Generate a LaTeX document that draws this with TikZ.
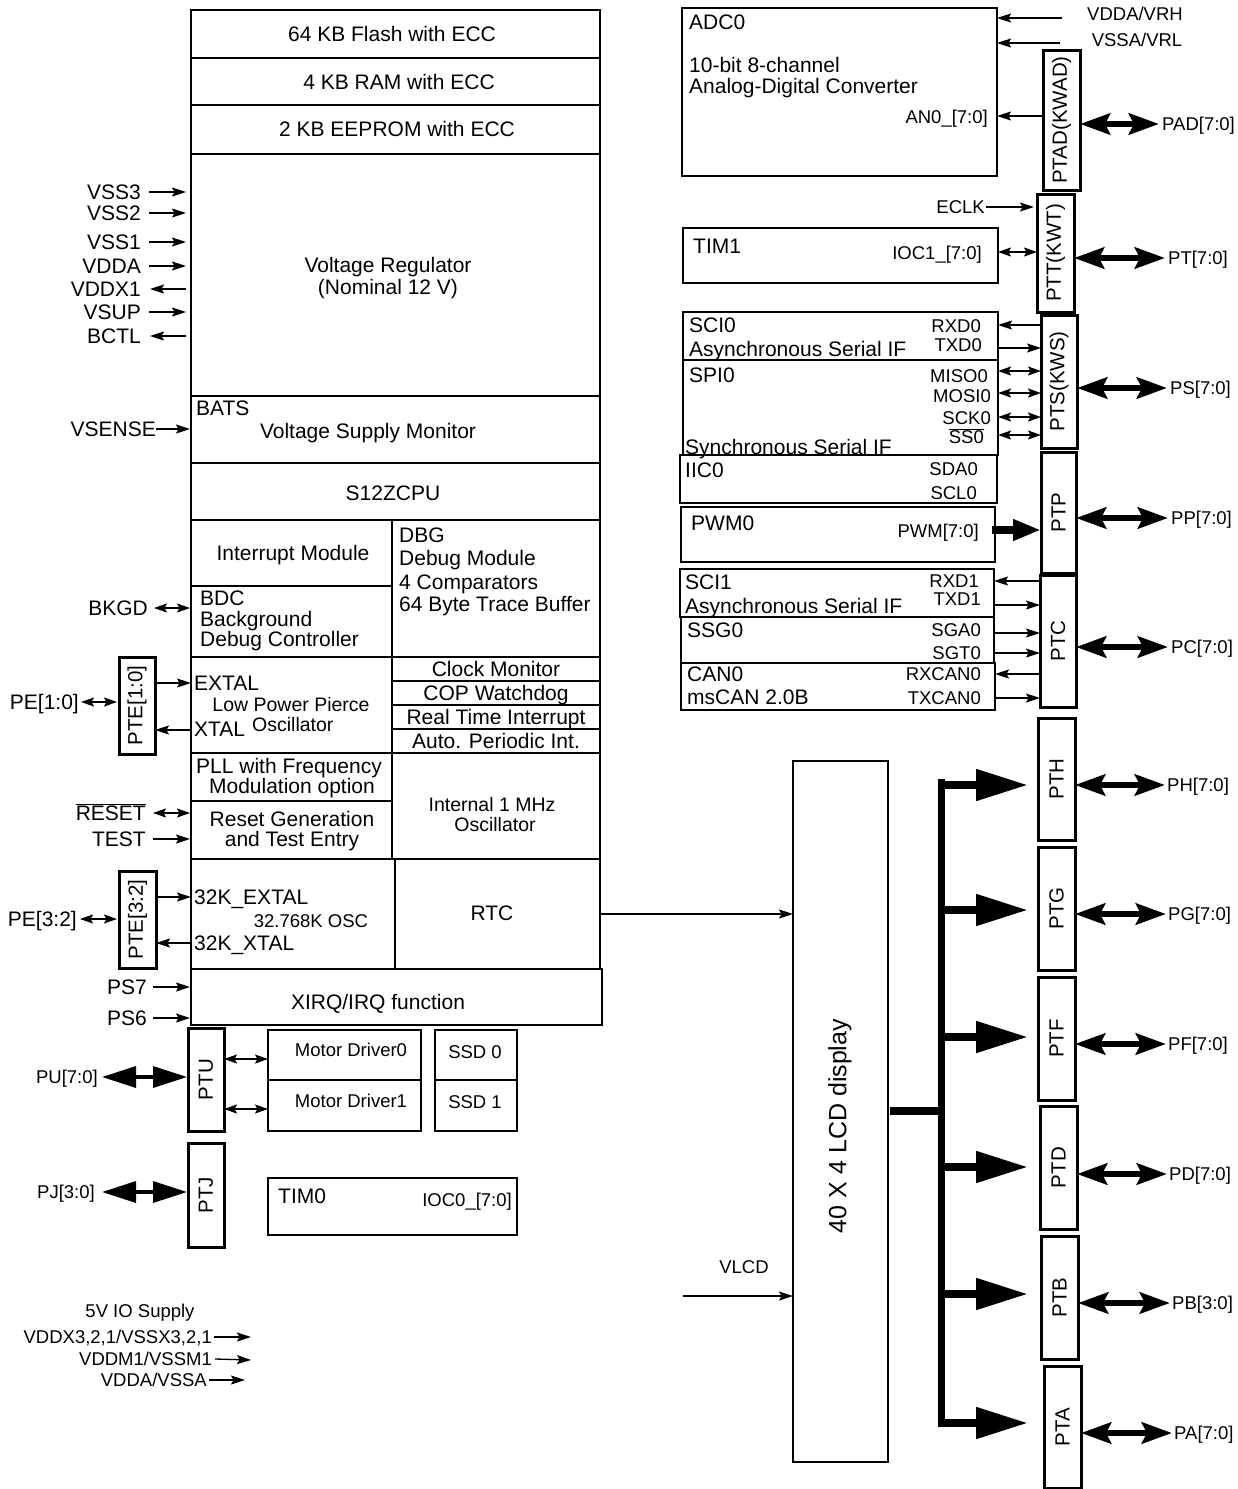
\documentclass[tikz,border=0pt]{standalone}
\usepackage{fontspec}
\setmainfont{Liberation Sans}
\usetikzlibrary{arrows.meta}
\newcommand\mkbox[6][]{\node[box,#1,anchor=north west,minimum width={(#4-#2)*1pt},minimum height={(#5-#3)*1pt}] (#6) at (#2,#3) {};}
\begin{document}
\begin{tikzpicture}[x=1pt,y=-1pt,
  box/.style={draw,line width=2.7pt,inner sep=0pt,outer sep=0pt},
  pb/.style={line width=3pt},
  T/.style={inner sep=0pt,font=\fontsize{21}{24}\selectfont,text height=15pt,text depth=0pt},
  M/.style={inner sep=0pt,font=\fontsize{19.5}{22}\selectfont,text height=14pt,text depth=0pt},
  S/.style={inner sep=0pt,font=\fontsize{18.5}{21}\selectfont,text height=13.3pt,text depth=0pt},
  P/.style={inner sep=0pt,font=\fontsize{20.5}{23}\selectfont,rotate=90},
  arr/.style={line width=1.3pt,-{Stealth[length=14pt,width=9pt,inset=2.5pt]}},
  darr/.style={line width=1.6pt,{Stealth[length=13pt,width=9pt,inset=2.5pt]}-{Stealth[length=13pt,width=9pt,inset=2.5pt]}},
  bigarr/.style={line width=6.5pt,{Stealth[length=30pt,width=21pt,inset=5pt]}-{Stealth[length=30pt,width=21pt,inset=5pt]}},
  puarr/.style={line width=3.5pt,{Triangle[length=34pt,width=21pt]}-{Triangle[length=34pt,width=21pt]}},
  brarr/.style={line width=8pt,-{Triangle[length=52pt,width=30pt]}},
  pwmarr/.style={line width=8pt,-{Triangle[length=28pt,width=20pt]}},
  bus/.style={line width=7pt},
]
\useasboundingbox (0,0) rectangle (1238,1489);
% ---------------- main stack
\mkbox{191}{10}{600}{58}{flash}
\mkbox{191}{58}{600}{105}{ram}
\mkbox{191}{105}{600}{154}{eeprom}
\mkbox{191}{154}{600}{396}{vreg}
\mkbox{191}{396}{600}{463}{vsm}
\mkbox{191}{463}{600}{520}{cpu}
\mkbox{191}{520}{392}{586}{intm}
\mkbox{191}{586}{392}{657}{bdc}
\mkbox{392}{520}{600}{657}{dbg}
\mkbox{191}{657}{392}{753}{lpo}
\mkbox{392}{657}{600}{681}{clkm}
\mkbox{392}{681}{600}{705}{cop}
\mkbox{392}{705}{600}{729}{rti}
\mkbox{392}{729}{600}{753}{api}
\mkbox{191}{753}{392}{801}{pll}
\mkbox{191}{801}{392}{859}{rst}
\mkbox{392}{753}{600}{859}{irc}
\mkbox{191}{859}{395}{969}{osc32}
\mkbox{395}{859}{600}{969}{rtc}
\mkbox{191}{969}{602}{1025}{xirq}
% left ports and modules
\mkbox[pb]{119}{657}{155}{754}{pte10}
\mkbox[pb]{119}{871}{156}{968}{pte32}
\mkbox[pb]{188}{1028}{224}{1131}{ptu}
\mkbox[pb]{188}{1143}{224}{1247}{ptj}
\mkbox{268}{1030}{421}{1080}{md0}
\mkbox{268}{1080}{421}{1131}{md1}
\mkbox{435}{1030}{517}{1080}{ssd0}
\mkbox{435}{1080}{517}{1131}{ssd1}
\mkbox{268}{1178}{517}{1235}{tim0}
% right modules
\mkbox{682}{8}{997}{176}{adc}
\mkbox{683}{228}{998}{283}{tim1}
\mkbox{683}{312}{998}{360}{sci0}
\mkbox{683}{360}{998}{455}{spi0}
\mkbox{680}{455}{997}{503}{iic}
\mkbox{681}{507}{995}{562}{pwm}
\mkbox{680}{569}{994}{617}{sci1}
\mkbox{681}{617}{994}{663}{ssg}
\mkbox{681}{663}{995}{710}{can}
\mkbox{793}{761}{888}{1462}{lcd}
% right ports
\mkbox[pb]{1043}{50}{1080}{190}{ptad}
\mkbox[pb]{1037}{194}{1074}{312}{ptt}
\mkbox[pb]{1041}{315}{1077}{448}{pts}
\mkbox[pb]{1041}{452}{1076}{573}{ptp}
\mkbox[pb]{1040}{575}{1076}{707}{ptc}
\mkbox[pb]{1038}{718}{1075}{840}{pth}
\mkbox[pb]{1038}{847}{1075}{970}{ptg}
\mkbox[pb]{1038}{977}{1075}{1100}{ptf}
\mkbox[pb]{1040}{1106}{1077}{1229}{ptd}
\mkbox[pb]{1041}{1236}{1078}{1359}{ptb}
\mkbox[pb]{1044}{1366}{1081}{1488}{pta}
% ---------------- texts in main stack
\node[T] (t-flash) at (392,34) {64 KB Flash with ECC};
\node[T] (t-ram) at (399,82) {4 KB RAM with ECC};
\node[T] (t-eep) at (397,129) {2 KB EEPROM with ECC};
\node[T] (t-vr1) at (388,265) {Voltage Regulator};
\node[T] (t-vr2) at (388,287) {(Nominal 12 V)};
\node[T,anchor=west] (t-bats) at (196,408) {BATS};
\node[T] (t-vsm) at (368,431) {Voltage Supply Monitor};
\node[T] (t-cpu) at (393,493) {S12ZCPU};
\node[T] (t-int) at (293,553) {Interrupt Module};
\node[T,anchor=west] (t-bdc1) at (200,598) {BDC};
\node[T,anchor=west] (t-bdc2) at (200,619) {Background};
\node[T,anchor=west] (t-bdc3) at (200,639) {Debug Controller};
\node[T,anchor=west] (t-dbg1) at (399,535) {DBG};
\node[T,anchor=west] (t-dbg2) at (399,558) {Debug Module};
\node[T,anchor=west] (t-dbg3) at (399,582) {4 Comparators};
\node[T,anchor=west] (t-dbg4) at (399,604) {64 Byte Trace Buffer};
\node[T,anchor=west] (t-extal) at (194,683) {EXTAL};
\node[M] (t-lpo1) at (291,704) {Low Power Pierce};
\node[T,anchor=west] (t-xtal) at (194,729) {XTAL};
\node[M,anchor=west] (t-lpo2) at (252,724) {Oscillator};
\node[T] (t-clkm) at (496,669) {Clock Monitor};
\node[T] (t-cop) at (496,693) {COP Watchdog};
\node[T] (t-rti) at (496,717) {Real Time Interrupt};
\node[T] (t-api) at (496,741) {Auto. Periodic Int.};
\node[T] (t-pll1) at (289,766) {PLL with Frequency};
\node[T] (t-pll2) at (292,786) {Modulation option};
\node[T] (t-rst1) at (292,819) {Reset Generation};
\node[T] (t-rst2) at (292,839) {and Test Entry};
\node[M] (t-irc1) at (492,804) {Internal 1 MHz};
\node[M] (t-irc2) at (495,824) {Oscillator};
\node[T,anchor=west] (t-32ex) at (194,897) {32K\_EXTAL};
\node[S] (t-32osc) at (311,921) {32.768K OSC};
\node[T,anchor=west] (t-32xt) at (194,943) {32K\_XTAL};
\node[T] (t-rtc) at (492,913) {RTC};
\node[T] (t-xirq) at (378,1002) {XIRQ/IRQ function};
\node[S] (t-md0) at (351,1050) {Motor Driver0};
\node[S] (t-md1) at (351,1101) {Motor Driver1};
\node[S] (t-ssd0) at (475,1052) {SSD 0};
\node[S] (t-ssd1) at (475,1102) {SSD 1};
\node[T,anchor=west] (t-tim0) at (278,1196) {TIM0};
\node[S,anchor=east] (t-ioc0) at (512,1200) {IOC0\_[7:0]};
% port texts
\node[P] at (pte10) {PTE[1:0]};
\node[P] at (pte32) {PTE[3:2]};
\node[P] at (ptu) {PTU};
\node[P] at (ptj) {PTJ};
\node[P] at (ptad) {PTAD(KWAD)};
\node[P] at (ptt) {PTT(KWT)};
\node[P] at (pts) {PTS(KWS)};
\node[P] at (ptp) {PTP};
\node[P] at (ptc) {PTC};
\node[P] at (pth) {PTH};
\node[P] at (ptg) {PTG};
\node[P] at (ptf) {PTF};
\node[P] at (ptd) {PTD};
\node[P] at (ptb) {PTB};
\node[P] at (pta) {PTA};
\node[inner sep=0pt,font=\fontsize{25}{28}\selectfont,rotate=90] (t-lcd) at (840,1126) {40 X 4 LCD display};
% ---------------- left labels
\node[T,anchor=east] (l-vss3) at (141,192) {VSS3};
\node[T,anchor=east] (l-vss2) at (141,213) {VSS2};
\node[T,anchor=east] (l-vss1) at (141,242) {VSS1};
\node[T,anchor=east] (l-vdda) at (141,266) {VDDA};
\node[T,anchor=east] (l-vddx1) at (141,289) {VDDX1};
\node[T,anchor=east] (l-vsup) at (141,312) {VSUP};
\node[T,anchor=east] (l-bctl) at (141,336) {BCTL};
\node[T,anchor=east] (l-vsense) at (156,429) {VSENSE};
\node[T,anchor=east] (l-bkgd) at (148,608) {BKGD};
\node[T,anchor=east] (l-pe10) at (79,702) {PE[1:0]};
\node[T,anchor=east] (l-reset) at (146,813) {$\overline{\mbox{RESET}}$};
\node[T,anchor=east] (l-test) at (146,839) {TEST};
\node[T,anchor=east] (l-pe32) at (77,919) {PE[3:2]};
\node[T,anchor=east] (l-ps7) at (147,987) {PS7};
\node[T,anchor=east] (l-ps6) at (147,1018) {PS6};
\node[S,anchor=east] (l-pu) at (98,1077) {PU[7:0]};
\node[S,anchor=east] (l-pj) at (95,1192) {PJ[3:0]};
\node[S] (l-5v) at (140,1311) {5V IO Supply};
\node[S,anchor=east] (l-vddx) at (212,1337) {VDDX3,2,1/VSSX3,2,1};
\node[S,anchor=east] (l-vddm) at (212,1359) {VDDM1/VSSM1};
\node[S,anchor=east] (l-vddavssa) at (207,1380) {VDDA/VSSA};
% left arrows
\foreach \n in {vss3,vss2,vss1,vdda,vsup}
  \draw[arr] ([xshift=8pt]l-\n.east) -- ([xshift=-5pt]vreg.west |- l-\n.east);
\foreach \n in {vddx1,bctl}
  \draw[arr] ([xshift=-5pt]vreg.west |- l-\n.east) -- ([xshift=9pt]l-\n.east);
\draw[arr] (l-vsense.east) -- ([xshift=-1pt]vsm.west |- l-vsense.east);
\draw[darr] ([xshift=6pt]l-bkgd.east) -- ([xshift=-1pt]bdc.west |- l-bkgd.east);
\draw[darr] ([xshift=2pt]l-pe10.east) -- ([xshift=-2pt]l-pe10.east -| pte10.west);
\draw[arr] (pte10.east |- 0,683) -- (lpo.west |- 0,683);
\draw[arr] (lpo.west |- 0,730) -- (pte10.east |- 0,730);
\draw[darr] ([xshift=7pt]l-reset.east) -- ([xshift=-1pt]rst.west |- l-reset.east);
\draw[arr] ([xshift=7pt]l-test.east) -- ([xshift=-1pt]rst.west |- l-test.east);
\draw[darr] ([xshift=3pt]l-pe32.east) -- ([xshift=-2pt]l-pe32.east -| pte32.west);
\draw[arr] (pte32.east |- 0,897) -- (osc32.west |- 0,897);
\draw[arr] (osc32.west |- 0,943) -- (pte32.east |- 0,943);
\draw[arr] ([xshift=6pt]l-ps7.east) -- ([xshift=-1pt]xirq.west |- l-ps7.east);
\draw[arr] ([xshift=6pt]l-ps6.east) -- ([xshift=-1pt]xirq.west |- l-ps6.east);
\draw[puarr] ([xshift=4pt]l-pu.east) -- ([xshift=-1pt]l-pu.east -| ptu.west);
\draw[puarr] ([xshift=7pt]l-pj.east) -- ([xshift=-1pt]l-pj.east -| ptj.west);
\draw[darr] (ptu.east |- 0,1059) -- (md0.west |- 0,1059);
\draw[darr] (ptu.east |- 0,1109) -- (md1.west |- 0,1109);
\coordinate (e-vddx) at (251,1337);
\coordinate (e-vddm) at (251,1360);
\coordinate (e-vdda) at (245,1380);
\draw[arr] ([xshift=2pt]l-vddx.east) -- (e-vddx);
\draw[arr] ([xshift=3pt]l-vddm.east) -- (e-vddm);
\draw[arr] ([xshift=2pt]l-vddavssa.east) -- (e-vdda);
% ---------------- right texts
\node[S] (l-vrh) at (1135,14) {VDDA/VRH};
\node[S] (l-vrl) at (1137,40) {VSSA/VRL};
\node[T,anchor=west] (t-adc1) at (689,22) {ADC0};
\node[T,anchor=west] (t-adc2) at (689,65) {10-bit 8-channel};
\node[T,anchor=west] (t-adc3) at (689,86) {Analog-Digital Converter};
\node[S,anchor=east] (t-an0) at (988,117) {AN0\_[7:0]};
\node[S,anchor=west] (l-pad) at (1162,124) {PAD[7:0]};
\node[S,anchor=east] (l-eclk) at (985,207) {ECLK};
\node[T,anchor=west] (t-tim1) at (693,246) {TIM1};
\node[S,anchor=east] (t-ioc1) at (982,253) {IOC1\_[7:0]};
\node[S,anchor=west] (l-pt) at (1168,258) {PT[7:0]};
\node[T,anchor=west] (t-sci0a) at (689,325) {SCI0};
\node[T,anchor=west] (t-sci0b) at (689,349) {Asynchronous Serial IF};
\node[S,anchor=east] (t-rxd0) at (981,326) {RXD0};
\node[S,anchor=east] (t-txd0) at (982,345) {TXD0};
\node[T,anchor=west] (t-spi0a) at (689,375) {SPI0};
\node[T,anchor=west] (t-spi0b) at (685,447) {Synchronous Serial IF};
\node[S,anchor=east] (t-miso) at (988,376) {MISO0};
\node[S,anchor=east] (t-mosi) at (991,396) {MOSI0};
\node[S,anchor=east] (t-sck) at (991,418) {SCK0};
\node[S,anchor=east] (t-ss) at (984,437) {$\overline{\mbox{SS0}}$};
\node[S,anchor=west] (l-ps) at (1170,388) {PS[7:0]};
\node[T,anchor=west] (t-iic) at (685,470) {IIC0};
\node[S,anchor=east] (t-sda) at (978,469) {SDA0};
\node[S,anchor=east] (t-scl) at (977,493) {SCL0};
\node[T,anchor=west] (t-pwm0) at (691,523) {PWM0};
\node[S,anchor=east] (t-pwm) at (979,531) {PWM[7:0]};
\node[S,anchor=west] (l-pp) at (1171,518) {PP[7:0]};
\node[T,anchor=west] (t-sci1a) at (685,582) {SCI1};
\node[T,anchor=west] (t-sci1b) at (685,606) {Asynchronous Serial IF};
\node[S,anchor=east] (t-rxd1) at (979,581) {RXD1};
\node[S,anchor=east] (t-txd1) at (981,599) {TXD1};
\node[T,anchor=west] (t-ssg) at (687,630) {SSG0};
\node[S,anchor=east] (t-sga) at (981,630) {SGA0};
\node[S,anchor=east] (t-sgt) at (981,653) {SGT0};
\node[T,anchor=west] (t-can1) at (687,674) {CAN0};
\node[T,anchor=west] (t-can2) at (687,697) {msCAN 2.0B};
\node[S,anchor=east] (t-rxcan) at (981,674) {RXCAN0};
\node[S,anchor=east] (t-txcan) at (981,698) {TXCAN0};
\node[S,anchor=west] (l-pc) at (1171,647) {PC[7:0]};
\node[S,anchor=west] (l-ph) at (1167,785) {PH[7:0]};
\node[S,anchor=west] (l-pg) at (1168,914) {PG[7:0]};
\node[S,anchor=west] (l-pf) at (1168,1044) {PF[7:0]};
\node[S,anchor=west] (l-pd) at (1169,1174) {PD[7:0]};
\node[S,anchor=west] (l-pb) at (1172,1303) {PB[3:0]};
\node[S,anchor=west] (l-pa) at (1174,1433) {PA[7:0]};
\node[S] (l-vlcd) at (744,1267) {VLCD};
% ---------------- right arrows
\coordinate (c-vrh) at (1062,18);
\coordinate (c-vrl) at (1060,43);
\draw[arr] (c-vrh) -- (adc.east |- c-vrh);
\draw[arr] (c-vrl) -- (adc.east |- c-vrl);
\draw[arr] (ptad.west |- 0,116) -- (adc.east |- 0,116);
\draw[arr] ([xshift=1pt]l-eclk.east) -- ([xshift=-3pt]l-eclk.east -| ptt.west);
\draw[darr] (tim1.east |- 0,252) -- (ptt.west |- 0,252);
\draw[arr] (pts.west |- 0,325) -- (sci0.east |- 0,325);
\draw[arr] (sci0.east |- 0,348) -- (pts.west |- 0,348);
\foreach \yy in {371,393,417,435}
  \draw[darr] (spi0.east |- 0,\yy) -- (pts.west |- 0,\yy);
\draw[pwmarr] ([xshift=-3pt]pwm.east |- 0,530) -- (ptp.west |- 0,530);
\draw[arr] (ptc.west |- 0,581) -- (sci1.east |- 0,581);
\draw[arr] (sci1.east |- 0,605) -- (ptc.west |- 0,605);
\draw[arr] (ssg.east |- 0,633) -- (ptc.west |- 0,633);
\draw[arr] (ssg.east |- 0,653) -- (ptc.west |- 0,653);
\draw[arr] (ptc.west |- 0,674) -- (can.east |- 0,674);
\draw[arr] (can.east |- 0,698) -- (ptc.west |- 0,698);
\draw[bigarr] (ptad.east |- l-pad.west) -- ([xshift=-3pt]l-pad.west);
\draw[bigarr] (ptt.east |- l-pt.west) -- ([xshift=-3pt]l-pt.west);
\draw[bigarr] (pts.east |- l-ps.west) -- ([xshift=-3pt]l-ps.west);
\draw[bigarr] (ptp.east |- l-pp.west) -- ([xshift=-3pt]l-pp.west);
\draw[bigarr] (ptc.east |- l-pc.west) -- ([xshift=-3pt]l-pc.west);
\draw[bigarr] (pth.east |- l-ph.west) -- ([xshift=-2pt]l-ph.west);
\draw[bigarr] (ptg.east |- l-pg.west) -- ([xshift=-2pt]l-pg.west);
\draw[bigarr] (ptf.east |- l-pf.west) -- ([xshift=-2pt]l-pf.west);
\draw[bigarr] (ptd.east |- l-pd.west) -- ([xshift=-2pt]l-pd.west);
\draw[bigarr] (ptb.east |- l-pb.west) -- ([xshift=-2pt]l-pb.west);
\draw[bigarr] (pta.east |- l-pa.west) -- ([xshift=-2pt]l-pa.west);
% LCD connections
\draw[arr] (rtc.east) -- (rtc.east -| lcd.west);
\coordinate (c-vlcd) at (683,1296);
\draw[arr] (c-vlcd) -- (c-vlcd -| lcd.west);
\coordinate (bus-top) at (941,779);
\coordinate (bus-bot) at (941,1427);
\coordinate (bus-j) at (941,1111);
\draw[bus] (bus-top) -- (bus-bot);
\draw[line width=8pt] ([xshift=2pt]lcd.east |- bus-j) -- (bus-j);
\coordinate (b-h) at (941,785);
\coordinate (b-g) at (941,910);
\coordinate (b-f) at (941,1037);
\coordinate (b-d) at (941,1167);
\coordinate (b-b) at (941,1294);
\coordinate (b-a) at (941,1423);
\draw[brarr] (b-h) -- ([xshift=-10pt]b-h -| pth.west);
\draw[brarr] (b-g) -- ([xshift=-10pt]b-g -| ptg.west);
\draw[brarr] (b-f) -- ([xshift=-10pt]b-f -| ptf.west);
\draw[brarr] (b-d) -- ([xshift=-12pt]b-d -| ptd.west);
\draw[brarr] (b-b) -- ([xshift=-13pt]b-b -| ptb.west);
\draw[brarr] (b-a) -- ([xshift=-16pt]b-a -| pta.west);
\end{tikzpicture}
\end{document}
